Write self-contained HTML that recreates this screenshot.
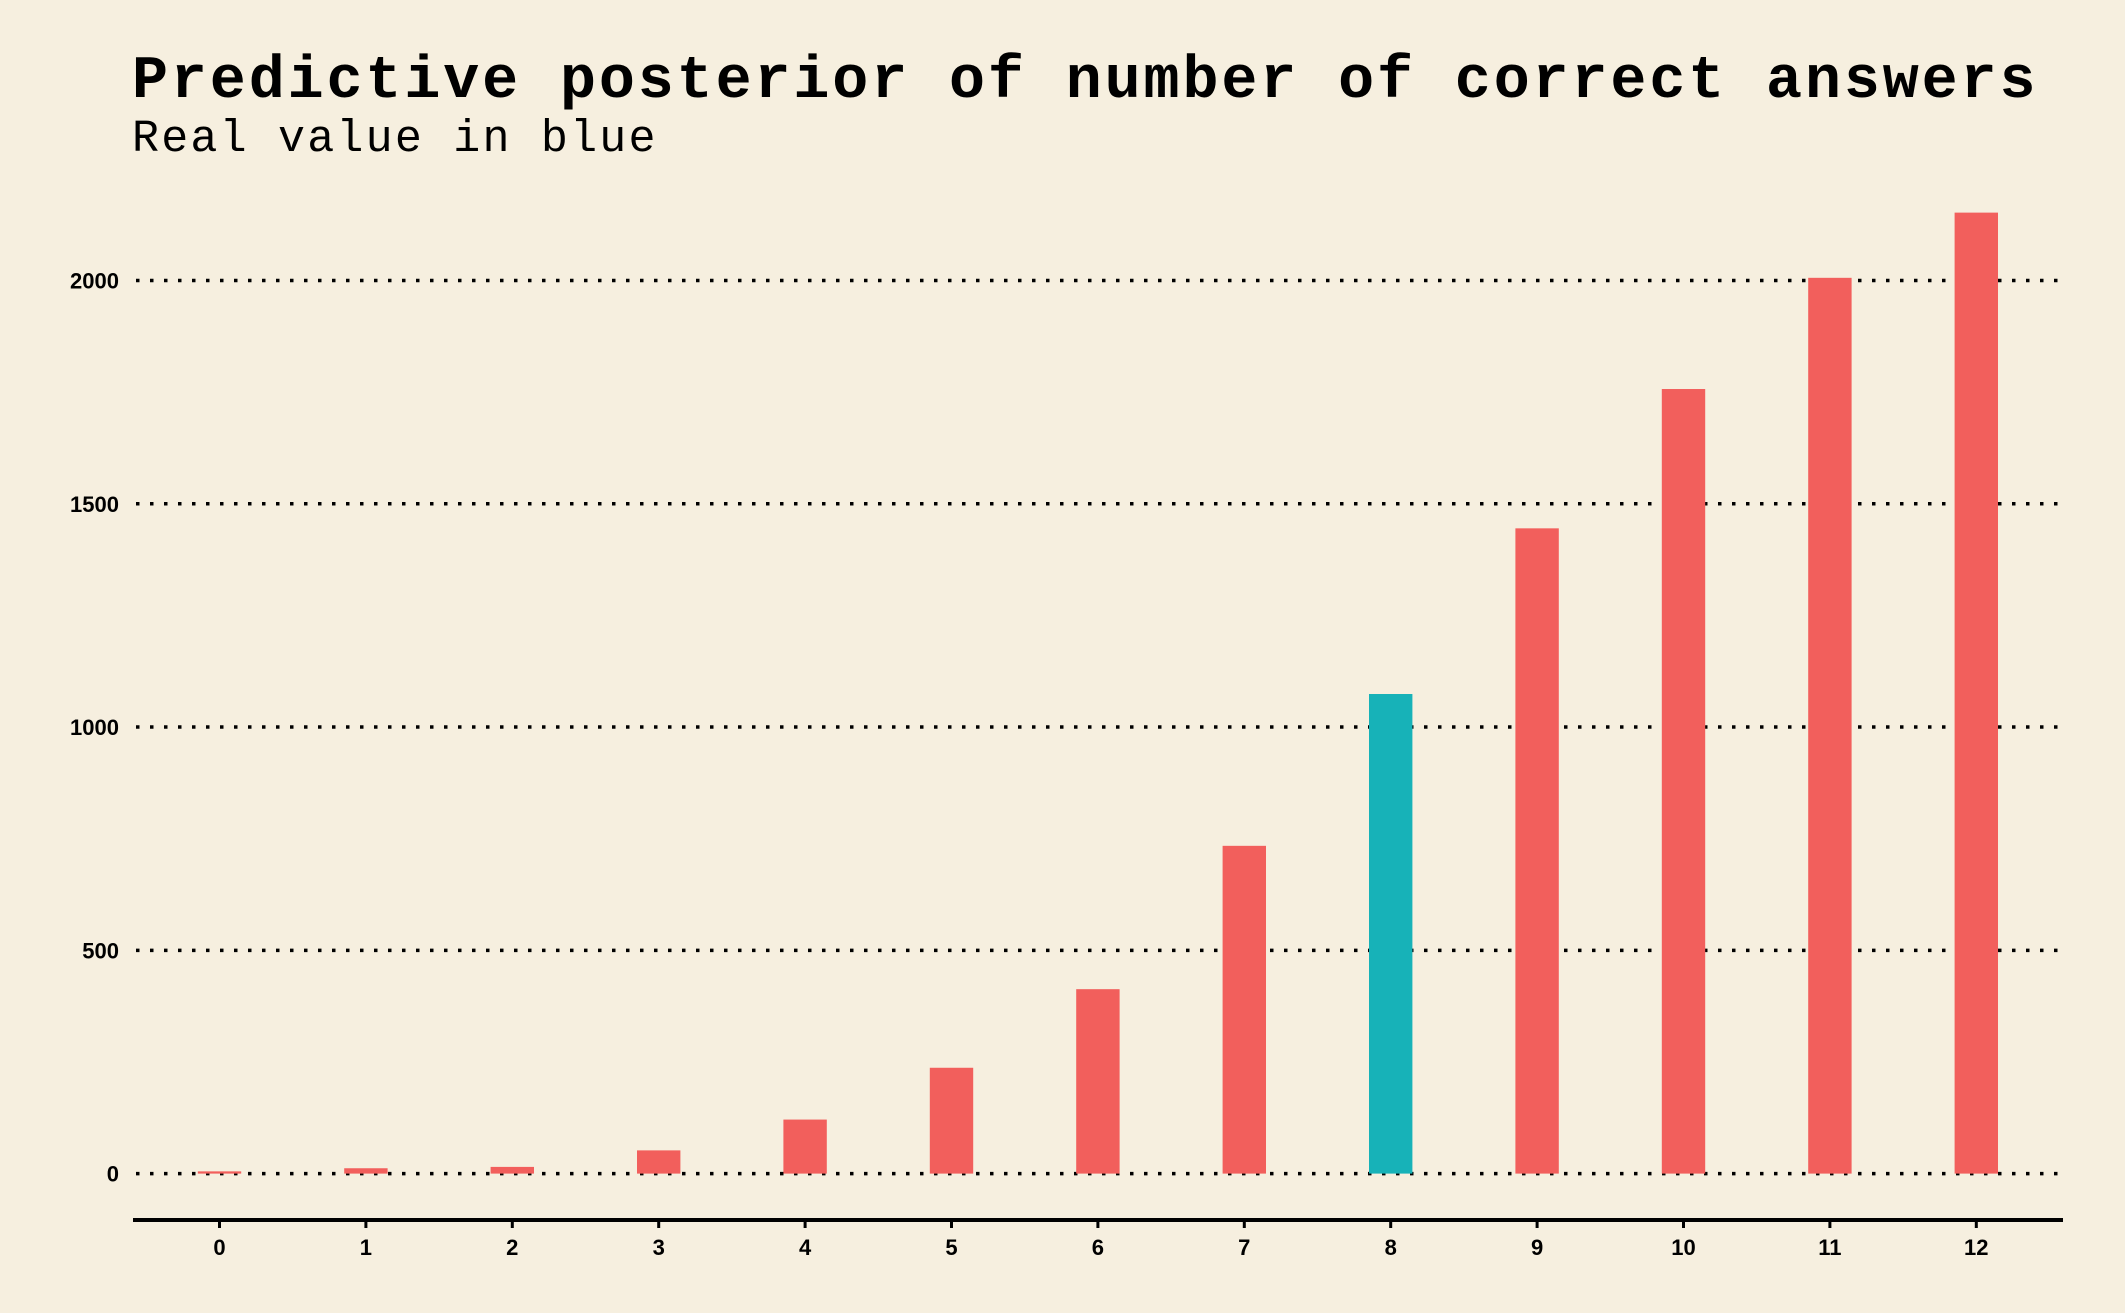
<!DOCTYPE html>
<html><head><meta charset="utf-8"><style>
html,body{margin:0;padding:0;background:#f6efdf;}
svg{display:block;}
</style></head><body>
<svg id="chart" width="2125" height="1313" xmlns="http://www.w3.org/2000/svg">
<rect width="2125" height="1313" fill="#f6efdf"/>
<text x="132" y="97" font-family="Liberation Mono, monospace" font-weight="bold" font-size="60" letter-spacing="2.9" fill="#000">Predictive posterior of number of correct answers</text>
<text x="132" y="151" font-family="Liberation Mono, monospace" font-size="45" letter-spacing="2.2" fill="#000">Real value in blue</text>
<g id="grid"></g><g id="bars"></g><g id="xaxis"></g>
</svg>
<script>
const categories = [0,1,2,3,4,5,6,7,8,9,10,11,12];
const counts = [5,12,15,52,121,237,413,734,1074,1445,1757,2006,2152];
const highlight = [8];
const yTicks = [0,500,1000,1500,2000];
const NS = "http://www.w3.org/2000/svg";
const y0 = 1173.6, y2000 = 280.5;
const yScale = v => y0 - (y0 - y2000) * v / 2000;
const xScale = c => 219.5 + 146.4 * c;
const grid = document.getElementById('grid');
const bars = document.getElementById('bars');
const xa = document.getElementById('xaxis');
function mk(tag, attrs, parent){const e=document.createElementNS(NS,tag);for(const k in attrs)e.setAttribute(k,attrs[k]);parent.appendChild(e);return e;}
yTicks.forEach(t=>{
  const y=yScale(t);
  const l=mk('line',{x1:136,x2:2062,y1:y,y2:y,stroke:'#000','stroke-width':3.5,'stroke-dasharray':'3.5 10.5'},grid);
  
  
  const tx=mk('text',{x:119,y:y+8,'text-anchor':'end','font-family':'Liberation Sans, sans-serif','font-weight':'bold','font-size':22,fill:'#000'},grid);
  tx.textContent=t;
  
  
});
categories.forEach((c,i)=>{
  const x=xScale(c), w=43.4, v=counts[i];
  const r=mk('rect',{x:x-w/2,y:yScale(v),width:w,height:y0-yScale(v),fill:highlight.includes(c)?'#17b2b8':'#f25f5c'},bars);
  
  
  const tk=mk('line',{x1:x,x2:x,y1:1220,y2:1228,stroke:'#000','stroke-width':3},xa);
  
  
  const t=mk('text',{x:x,y:1255,'text-anchor':'middle','font-family':'Liberation Sans, sans-serif','font-weight':'bold','font-size':22,fill:'#000'},xa);
  t.textContent=c;
  
  
});
const ax=mk('line',{x1:133,x2:2063,y1:1220,y2:1220,stroke:'#000','stroke-width':4},xa);


</script>
</body></html>
